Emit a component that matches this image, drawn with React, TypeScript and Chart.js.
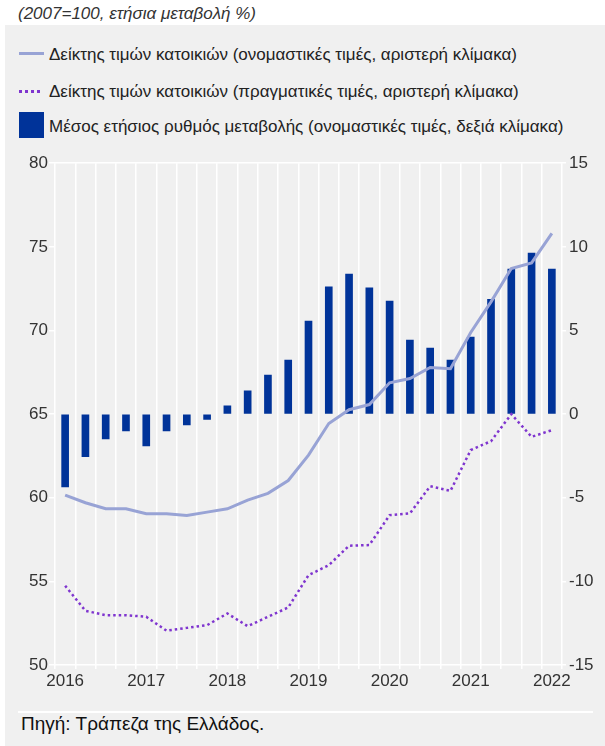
import React, { useEffect, useRef } from 'react';
import { Chart, registerables } from 'chart.js';

Chart.register(...registerables);

const quarters = [
  '2016Q1', '2016Q2', '2016Q3', '2016Q4',
  '2017Q1', '2017Q2', '2017Q3', '2017Q4',
  '2018Q1', '2018Q2', '2018Q3', '2018Q4',
  '2019Q1', '2019Q2', '2019Q3', '2019Q4',
  '2020Q1', '2020Q2', '2020Q3', '2020Q4',
  '2021Q1', '2021Q2', '2021Q3', '2021Q4',
  '2022Q1',
];

const nominalIndex = [
  60.16, 59.7, 59.34, 59.34, 59.04, 59.04, 58.94, 59.14, 59.34, 59.86, 60.26, 61.03,
  62.55, 64.44, 65.26, 65.57, 66.87, 67.13, 67.79, 67.71, 69.88, 71.71, 73.7, 74.04, 75.8,
];

const realIndex = [
  54.74, 53.24, 52.98, 52.98, 52.88, 52.05, 52.22, 52.38, 53.08, 52.32, 52.88, 53.44,
  55.37, 55.97, 57.13, 57.17, 58.96, 59.06, 60.69, 60.41, 62.85, 63.38, 65.0, 63.64, 64.04,
];

const annualChange = [
  -4.35, -2.55, -1.48, -1.0, -1.9, -1.0, -0.64, -0.32, 0.5, 1.39, 2.33, 3.23,
  5.56, 7.61, 8.37, 7.55, 6.75, 4.42, 3.94, 3.23, 4.6, 6.86, 8.67, 9.62, 8.67,
];

const legendLabels = [
  'Δείκτης τιμών κατοικιών (ονομαστικές τιμές, αριστερή κλίμακα)',
  'Δείκτης τιμών κατοικιών (πραγματικές τιμές, αριστερή κλίμακα)',
  'Μέσος ετήσιος ρυθμός μεταβολής (ονομαστικές τιμές, δεξιά κλίμακα)',
];

const subtitle = '(2007=100, ετήσια μεταβολή %)';
const source = 'Πηγή: Τράπεζα της Ελλάδος.';

const FONT = '"Liberation Sans", Arial, Helvetica, sans-serif';
const BAR_COLOR = '#003399';
const NOMINAL_COLOR = '#98a3d5';
const REAL_COLOR = '#7f35cf';
const BG = '#f0f0f0';

export default function App() {
  const canvasRef = useRef<HTMLCanvasElement | null>(null);

  useEffect(() => {
    if (!canvasRef.current) return;
    const chart = new Chart(canvasRef.current, {
      type: 'bar',
      data: {
        labels: quarters,
        datasets: [
          {
            type: 'line',
            label: legendLabels[0],
            data: nominalIndex,
            yAxisID: 'y',
            borderColor: NOMINAL_COLOR,
            backgroundColor: NOMINAL_COLOR,
            borderWidth: 3,
            pointRadius: 0,
            tension: 0,
            order: 1,
          },
          {
            type: 'line',
            label: legendLabels[1],
            data: realIndex,
            yAxisID: 'y',
            borderColor: REAL_COLOR,
            backgroundColor: REAL_COLOR,
            borderWidth: 2.5,
            borderDash: [2.5, 3],
            borderCapStyle: 'butt',
            pointRadius: 0,
            tension: 0,
            order: 2,
          },
          {
            type: 'bar',
            label: legendLabels[2],
            data: annualChange,
            yAxisID: 'y1',
            backgroundColor: BAR_COLOR,
            borderWidth: 0,
            barThickness: 7,
            order: 3,
          },
        ],
      },
      options: {
        responsive: false,
        animation: false,
        layout: { padding: { top: 13, left: 0, right: 0, bottom: 0 } },
        plugins: {
          legend: { display: false },
          tooltip: { enabled: false },
        },
        scales: {
          x: {
            offset: true,
            grid: {
              offset: true,
              color: '#ffffff',
              lineWidth: 1.5,
              drawTicks: true,
              tickLength: 4,
              tickColor: '#ffffff',
            },
            border: { display: false },
            ticks: {
              autoSkip: false,
              maxRotation: 0,
              minRotation: 0,
              color: '#333333',
              padding: 2,
              font: { family: FONT, size: 17 },
              callback: (_v: any, i: number) => (i % 4 === 0 ? quarters[i].slice(0, 4) : ''),
            },
            afterFit: (s: any) => {
              s.height = 30;
            },
          },
          y: {
            position: 'left',
            min: 50,
            max: 80,
            ticks: {
              stepSize: 5,
              color: '#333333',
              padding: 1,
              font: { family: FONT, size: 17 },
            },
            grid: {
              color: (ctx: any) =>
                ctx.tick && (ctx.tick.value === 80 || ctx.tick.value === 50) ? '#ffffff' : 'rgba(0,0,0,0)',
              lineWidth: 1.5,
              tickColor: '#ffffff',
              tickLength: 6,
            },
            border: { display: false },
            afterFit: (s: any) => {
              s.width = 55;
            },
          },
          y1: {
            position: 'right',
            min: -15,
            max: 15,
            ticks: {
              stepSize: 5,
              color: '#333333',
              padding: 3,
              font: { family: FONT, size: 17 },
            },
            grid: {
              drawOnChartArea: false,
              tickColor: '#ffffff',
              tickLength: 4,
              lineWidth: 1.5,
            },
            border: { display: false },
            afterFit: (s: any) => {
              s.width = 43;
            },
          },
        },
      },
    } as any);
    return () => chart.destroy();
  }, []);

  const legendText: React.CSSProperties = {
    position: 'absolute',
    left: 49,
    fontFamily: FONT,
    fontSize: 17,
    color: '#222222',
    whiteSpace: 'nowrap',
    lineHeight: '20px',
  };

  return (
    <div style={{ position: 'absolute', left: 0, top: 0, width: 605, height: 746, background: '#ffffff', overflow: 'hidden' }}>
      <div
        style={{
          position: 'absolute',
          left: 18,
          top: 3,
          fontFamily: FONT,
          fontStyle: 'italic',
          fontSize: 17,
          lineHeight: '22px',
          color: '#333333',
          whiteSpace: 'nowrap',
        }}
      >
        {subtitle}
      </div>
      <div style={{ position: 'absolute', left: 5, top: 25, width: 600, height: 721, background: BG }} />

      <div style={{ position: 'absolute', left: 19, top: 52, width: 25, height: 3, background: NOMINAL_COLOR }} />
      <div style={{ ...legendText, top: 45 }}>{legendLabels[0]}</div>

      <div
        style={{
          position: 'absolute',
          left: 19,
          top: 90,
          width: 21,
          height: 3,
          background: `repeating-linear-gradient(to right, ${REAL_COLOR} 0px, ${REAL_COLOR} 3px, transparent 3px, transparent 6px)`,
        }}
      />
      <div style={{ ...legendText, top: 82 }}>{legendLabels[1]}</div>

      <div style={{ position: 'absolute', left: 19, top: 112, width: 25, height: 26, background: BAR_COLOR }} />
      <div style={{ ...legendText, top: 117 }}>{legendLabels[2]}</div>

      <canvas
        ref={canvasRef}
        width={605}
        height={545}
        style={{ position: 'absolute', left: 0, top: 150, width: 605, height: 545, display: 'block' }}
      />

      <div style={{ position: 'absolute', left: 18, top: 711, width: 575, height: 2, background: '#ffffff' }} />
      <div
        style={{
          position: 'absolute',
          left: 21,
          top: 713,
          fontFamily: FONT,
          fontSize: 19,
          color: '#111111',
          whiteSpace: 'nowrap',
          lineHeight: '22px',
        }}
      >
        {source}
      </div>
    </div>
  );
}
